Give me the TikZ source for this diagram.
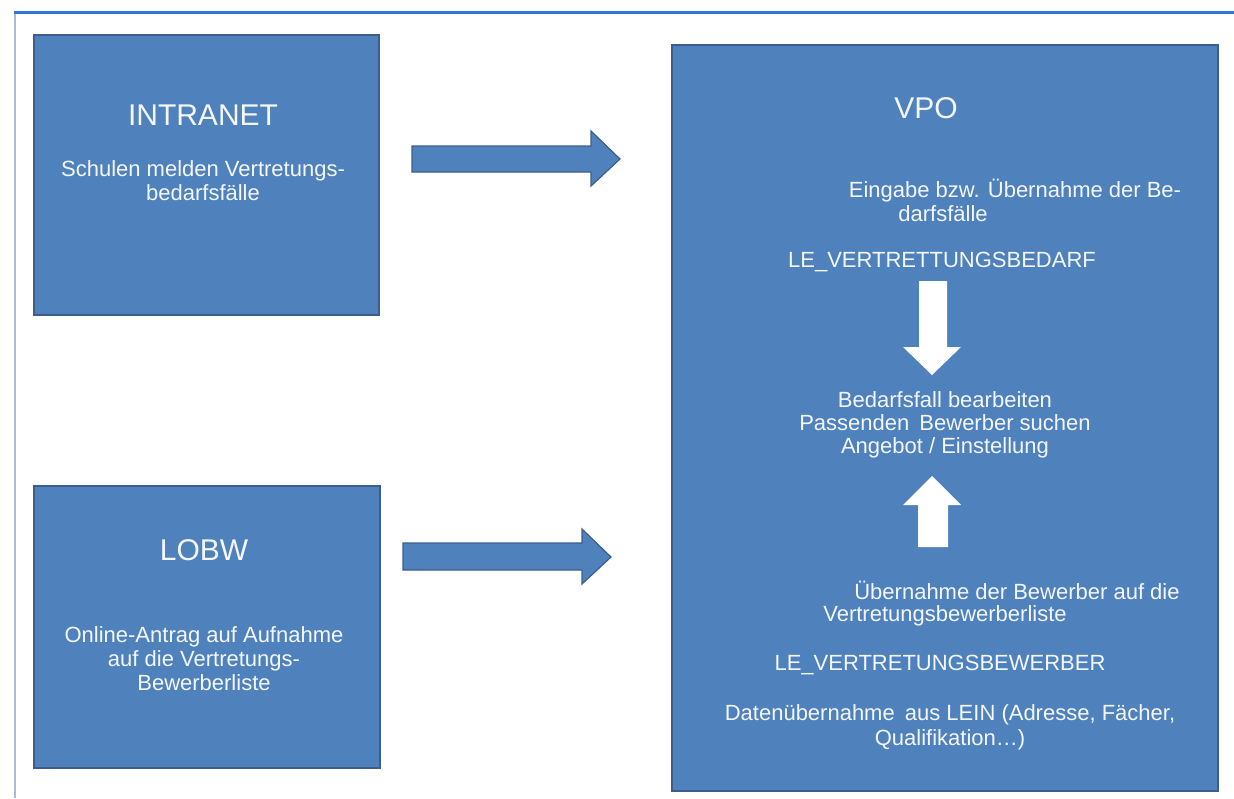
\documentclass[tikz,border=0pt]{standalone}
\usepackage{fontspec}
\setmainfont{Liberation Sans}
\definecolor{panelblue}{HTML}{4F81BD}
\definecolor{paneledge}{HTML}{3B5E8C}
\definecolor{frameblue}{HTML}{3374D4}
\definecolor{framegrey}{HTML}{A9BCD3}
\definecolor{textwhite}{HTML}{F4F7FC}
\begin{document}
\begin{tikzpicture}[x=1pt,y=-1pt,
  panel/.style={draw=paneledge, line width=1.5pt, fill=panelblue, inner sep=0pt, anchor=north west},
  title/.style={text=textwhite, font=\fontsize{30}{34}\selectfont, inner sep=0pt},
  body/.style={text=textwhite, font=\fontsize{22}{24}\selectfont, align=center, inner sep=0pt},
  flow/.style={fill=panelblue, draw=paneledge, line width=1.2pt, line join=miter},
  inflow/.style={fill=white}]
\useasboundingbox (0,0) rectangle (1234,798);
\fill[white] (0,0) rectangle (1234,798);
% page frame
\draw[framegrey, line width=2pt] (15,12) -- (15,798);
\draw[frameblue, line width=3pt] (14,12) -- (1234,12);

% panels
\node[panel, minimum width=345pt, minimum height=280pt] (intranet) at (33,34) {};
\node[panel, minimum width=346pt, minimum height=282pt] (lobw) at (33,485) {};
\node[panel, minimum width=546pt, minimum height=746pt] (vpo) at (671,44) {};

% block arrows between the panels
\filldraw[flow] (412,146) -- (591,146) -- (591,131) -- (620,159) -- (591,186) -- (591,172) -- (412,172) -- cycle;
\filldraw[flow] (403,543) -- (582,543) -- (582,529) -- (611,557) -- (582,584) -- (582,570) -- (403,570) -- cycle;

% white arrows inside VPO
\fill[inflow] (919,281) -- (947,281) -- (947,347) -- (961,347) -- (932,375) -- (903,347) -- (919,347) -- cycle;
\fill[inflow] (932,476) -- (961,505) -- (948,505) -- (948,547) -- (918,547) -- (918,505) -- (903,505) -- cycle;

% INTRANET
\node[title] (tIntranet) at (203,115) {INTRANET};
\node[body] (bIntranet) at (203,181) {Schulen melden Vertretungs-\\bedarfsfälle};

% LOBW
\node[title] (tLobw) at (204,550) {LOBW};
\node[body] (bLobw) at (204,659) {Online-Antrag auf Aufnahme\\auf die Vertretungs-\\Bewerberliste};

% VPO
\node[title] (tVpo) at (926,108) {VPO};
\node[body] (eingabe1) at (1015,191) {Eingabe bzw. Übernahme der Be-};
\node[body] (eingabe2) at (943,214) {darfsfälle};
\node[body] (bedarf) at (942,262) {LE\_VERTRETTUNGSBEDARF};
\node[body, font=\fontsize{22}{23}\selectfont] (bearb) at (945,425) {Bedarfsfall bearbeiten\\Passenden\hspace{4pt} Bewerber suchen\\Angebot / Einstellung};
\node[body] (uebern1) at (1017,590) {Übernahme der Bewerber auf die};
\node[body] (uebern2) at (945,616) {Vertretungsbewerberliste};
\node[body] (bewerber) at (940,665) {LE\_VERTRETUNGSBEWERBER};
\node[body, font=\fontsize{22}{25}\selectfont] (daten) at (950,727) {Datenübernahme\hspace{4pt} aus LEIN (Adresse, Fächer,\\Qualifikation…)};
\end{tikzpicture}
\end{document}
